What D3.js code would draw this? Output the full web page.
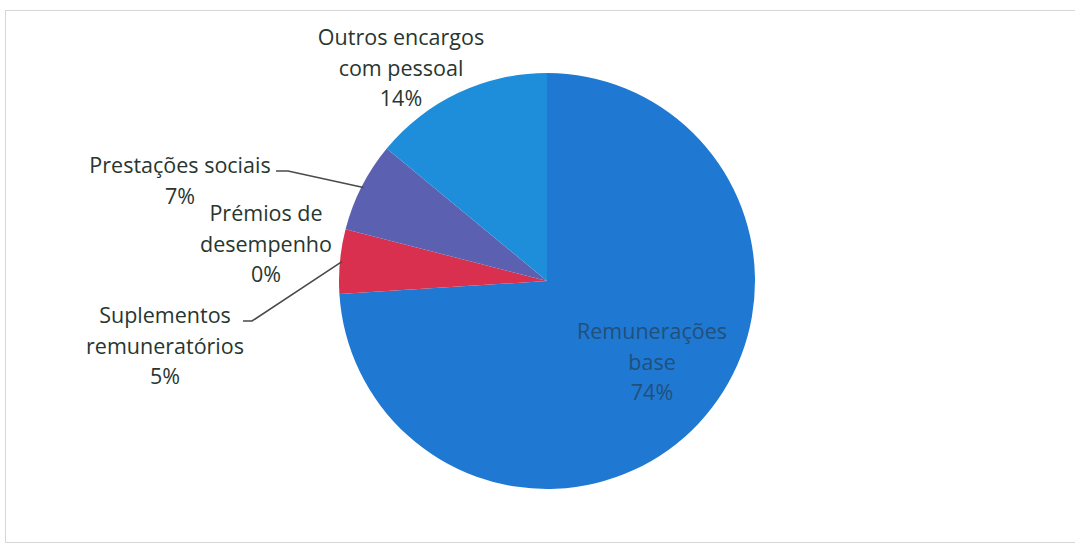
<!DOCTYPE html>
<html><head><meta charset="utf-8">
<script src="https://cdn.jsdelivr.net/npm/d3@7"></script>
<style>body{margin:0;background:#fff}svg{display:block}</style>
</head><body><svg id="c" width="1075" height="548"></svg>
<script>
const categories = ["Remunerações base","Suplementos remuneratórios","Prémios de desempenho","Prestações sociais","Outros encargos com pessoal"];
const values = [74, 5, 0, 7, 14];
const colors = ["#1f78d2","#d8304e","#b03060","#5b61b0","#1e8edb"];
const labelLines = [["Remunerações","base","74%"],["Suplementos","remuneratórios","5%"],["Prémios de","desempenho","0%"],["Prestações sociais","7%"],["Outros encargos","com pessoal","14%"]];

const svg = d3.select("#c");
const cx = 547, cy = 281, r = 208;

// frame
svg.append("rect").attr("x",5.5).attr("y",10.5).attr("width",1080).attr("height",532)
  .attr("fill","none").attr("stroke","#d6d6d6").attr("stroke-width",1);

const pie = d3.pie().value(d=>d).sort(null);
const arcs = pie(values);
const arc = d3.arc().innerRadius(0).outerRadius(r);
const g = svg.append("g").attr("transform",`translate(${cx},${cy})`);
g.selectAll("path").data(arcs).join("path").attr("d",arc).attr("fill",(d,i)=>colors[i]);

// label positions (centre x, first baseline y)
const labelPos = [[652,339],[165,323],[266,221],[180,173],[401,45]];
const lh = 30.5;
labelLines.forEach((lines,i)=>{
  const t = svg.append("text").attr("text-anchor","middle")
    .attr("font-family","'Open Sans', sans-serif").attr("font-size",21.5)
    .attr("fill", i===0 ? "#22507a" : "#28362f");
  lines.forEach((s,k)=>{
    t.append("tspan").attr("x",labelPos[i][0]).attr("y",labelPos[i][1]+k*lh).text(s);
  });
});

// leader lines
const outer = d3.arc().innerRadius(r-2).outerRadius(r-2);
function leader(i, pts){
  const c = outer.centroid(arcs[i]);
  const p = [...pts, [cx+c[0], cy+c[1]]];
  svg.append("path").attr("d", d3.line()(p)).attr("fill","none").attr("stroke","#4a4a4a").attr("stroke-width",1.6);
}
leader(3, [[276,171],[288,171]]);
leader(1, [[243,321],[252,321]]);
</script></body></html>
